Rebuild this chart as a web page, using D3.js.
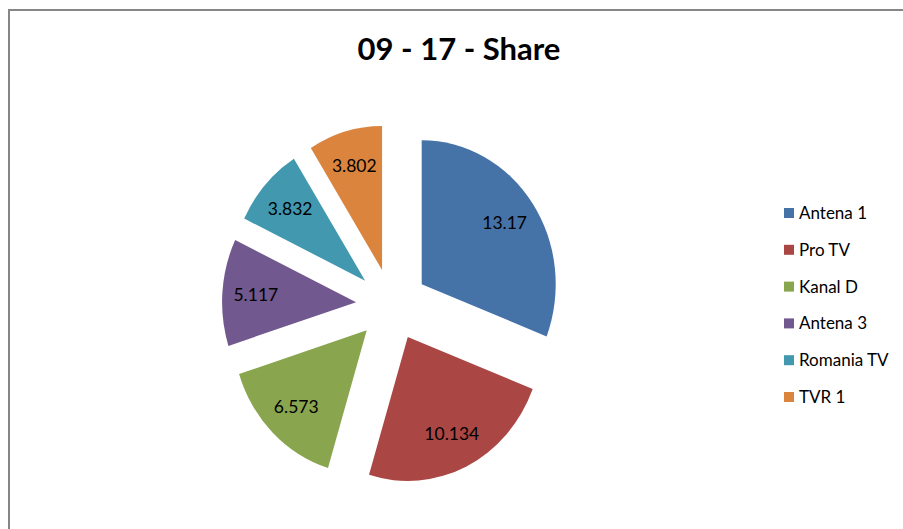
<!DOCTYPE html>
<html>
<head>
<meta charset="utf-8">
<script src="https://cdn.jsdelivr.net/npm/d3@7"></script>
<style>
  html, body { margin: 0; padding: 0; background: #fff; }
  svg { display: block; }
</style>
</head>
<body>
<svg id="chart" width="903" height="529"></svg>
<script>
const categories = ["Antena 1", "Pro TV", "Kanal D", "Antena 3", "Romania TV", "TVR 1"];
const values = [13.17, 10.134, 6.573, 5.117, 3.832, 3.802];
const labels = ["13.17", "10.134", "6.573", "5.117", "3.832", "3.802"];
const colors = ["#4572A7", "#AA4643", "#89A54E", "#71588F", "#4198AF", "#DB843D"];
const title = "09 - 17 - Share";

const svg = d3.select("#chart");
const font = "Lato, 'Open Sans', sans-serif";

// chart border
svg.append("rect")
  .attr("x", 9).attr("y", 10)
  .attr("width", 1000).attr("height", 1000)
  .attr("fill", "#fff")
  .attr("stroke", "#868686")
  .attr("stroke-width", 2);

// title
svg.append("text")
  .attr("x", 459).attr("y", 60)
  .attr("text-anchor", "middle")
  .attr("font-family", font)
  .attr("font-weight", "bold")
  .attr("font-size", 31)
  .attr("fill", "#000")
  .text(title);

// pie
const cx = 392, cy = 304.6;
const rx = 134, ry = 144;
const explode = 36;
const labelFrac = 0.75;

const pie = d3.pie().sort(null).value(d => d)(values);
const arc = d3.arc().innerRadius(0).outerRadius(rx);

const g = svg.append("g").attr("transform", `translate(${cx},${cy})`);

pie.forEach((p, i) => {
  const mid = (p.startAngle + p.endAngle) / 2;
  const ox = explode * Math.sin(mid);
  const oy = -explode * Math.cos(mid);
  g.append("path")
    .attr("d", arc(p))
    .attr("fill", colors[i])
    .attr("transform", `translate(${ox},${oy}) scale(1,${ry / rx})`);
  const lx = ox + labelFrac * rx * Math.sin(mid);
  const ly = oy - labelFrac * ry * Math.cos(mid);
  g.append("text")
    .attr("x", lx).attr("y", ly)
    .attr("dy", "0.35em")
    .attr("text-anchor", "middle")
    .attr("font-family", font)
    .attr("font-size", 17.5)
    .attr("fill", "#000")
    .text(labels[i]);
});

// legend
const legend = svg.append("g").attr("transform", "translate(784,213)");
const yLeg = d3.scalePoint().domain(categories).range([0, 184]);
categories.forEach((c, i) => {
  const y = yLeg(c);
  legend.append("rect")
    .attr("x", 0).attr("y", y - 5)
    .attr("width", 10).attr("height", 10)
    .attr("fill", colors[i]);
  legend.append("text")
    .attr("x", 15).attr("y", y)
    .attr("dy", "0.35em")
    .attr("font-family", font)
    .attr("font-size", 17)
    .attr("fill", "#000")
    .text(c);
});
</script>
</body>
</html>
